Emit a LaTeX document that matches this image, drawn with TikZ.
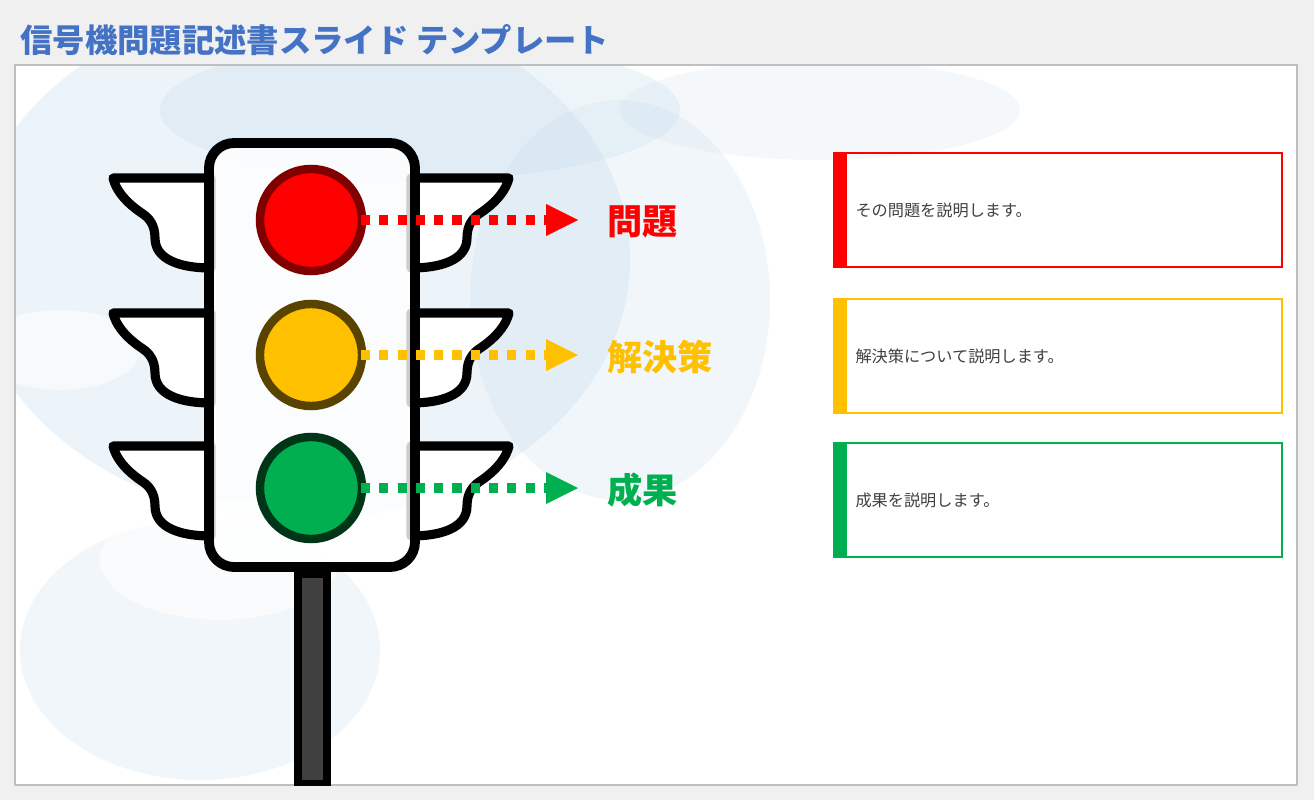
\documentclass[tikz,border=0pt]{standalone}
\usepackage{fontspec}
\setmainfont{Noto Sans CJK JP}
\usetikzlibrary{arrows.meta}
\definecolor{titleblue}{HTML}{4472C4}
\definecolor{lred}{HTML}{FF0000}
\definecolor{lyellow}{HTML}{FFC000}
\definecolor{lgreen}{HTML}{00B050}
\definecolor{sky}{HTML}{C9DFEE}
\definecolor{txtgray}{HTML}{404040}
\tikzset{
  wing/.style={draw=black,line width=2.6pt,fill=white,line join=round},
  lampring/.style={circle,minimum size=1.02cm,line width=2.4pt},
  dotarrow/.style={line width=2.8pt,dash pattern=on 2.6pt off 2.6pt},
  tip/.style={fill,draw=none},
  lbl/.style={anchor=west,font=\fontsize{10}{12}\selectfont\bfseries},
  descbox/.style={draw,line width=0.6pt,minimum width=4.48cm,minimum height=1.14cm},
  desctext/.style={anchor=west,inner sep=0pt,text=txtgray,font=\fontsize{4.6}{6}\selectfont}
}
\newcommand\wingpair[1]{%
  \foreach \s in {1,-1}{
    \begin{scope}[shift={(311,#1)},xscale=\s]
      \draw[wing] (-198,-42) -- (-100,-42) -- (-100,48)
        .. controls (-130,48) and (-156,40) .. (-156,18)
        .. controls (-156,5) and (-162,-2) .. (-168,-6)
        .. controls (-180,-14) and (-194,-26) .. cycle;
    \end{scope}}}
\begin{document}
\begin{tikzpicture}[x=0.01cm,y=-0.01cm]
\useasboundingbox (0,0) rectangle (1314,800);
\fill[gray!12] (0,0) rectangle (1314,800);
\node[anchor=west,text=titleblue,font=\fontsize{9.2}{11}\selectfont\bfseries] (title) at (8,40) {信号機問題記述書スライド テンプレート};
\draw[gray!50,fill=white] (15,65) rectangle (1297,785);
% sky
\begin{scope}
  \clip (16,66) rectangle (1296,784);
  \fill[sky,opacity=0.35] (300,260) ellipse (330 and 260);
  \fill[sky,opacity=0.3] (420,110) ellipse (260 and 70);
  \fill[sky,opacity=0.25] (620,300) ellipse (150 and 200);
  \fill[sky,opacity=0.25] (200,650) ellipse (180 and 130);
  \fill[sky,opacity=0.2] (820,110) ellipse (200 and 50);
  \fill[white,opacity=0.6] (60,350) ellipse (80 and 40);
  \fill[white,opacity=0.6] (220,560) ellipse (120 and 60);
\end{scope}
% pole
\draw[fill=black] (295,570) rectangle (330,785);
\fill[txtgray] (302,578) rectangle (323,780);
% wings
\wingpair{220}
\wingpair{355}
\wingpair{488}
% body
\draw[line width=2.8pt,fill=white,fill opacity=0.8,rounded corners=0.25cm] (209,143) rectangle (415,567);
% lamps
\node[lampring,draw=lred!50!black,fill=lred] (red) at (311,220) {};
\node[lampring,draw=lyellow!35!black,fill=lyellow] (yellow) at (311,355) {};
\node[lampring,draw=lgreen!30!black,fill=lgreen] (green) at (311,488) {};
% arrows and labels
\foreach \n/\c/\t in {red/lred/問題,yellow/lyellow/解決策,green/lgreen/成果}{
  \path (\n.center) ++(50,0) coordinate (\n-a) ++(185,0) coordinate (\n-b);
  \draw[dotarrow,\c] (\n-a) -- (\n-b);
  \fill[tip,\c] (\n-b) -- ++(0,-16) -- ++(32,16) -- ++(-32,16) -- cycle;
  \path (\n.center) ++(284,2) node[lbl,text=\c] (\n-lbl) {\t};
}
% description boxes
\foreach \n/\c/\y/\t in {p/lred/210/その問題を説明します。,s/lyellow/356/解決策について説明します。,r/lgreen/500/成果を説明します。}{
  \node[descbox,draw=\c] (\n-box) at (1058,\y) {};
  \fill[\c] (\n-box.north west) rectangle ([xshift=0.14cm]\n-box.south west);
  \node[desctext] (\n-txt) at ([xshift=0.22cm]\n-box.west) {\t};
}
\end{tikzpicture}
\end{document}
